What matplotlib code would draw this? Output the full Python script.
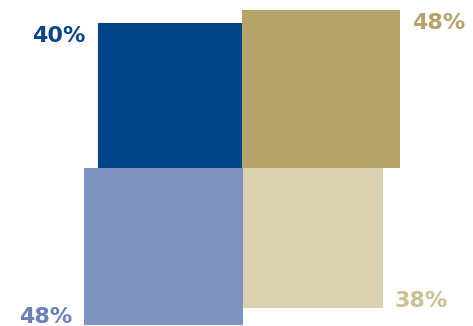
import matplotlib
matplotlib.use("Agg")
import matplotlib.pyplot as plt
from matplotlib.patches import Rectangle
import numpy as np

# quadrant shares: top-left, top-right, bottom-left, bottom-right
labels = ["40%", "48%", "48%", "38%"]
values = [40, 48, 48, 38]
fills = ["#004386", "#b5a36b", "#7f93c0", "#d9d1b1"]
text_colors = ["#0b4487", "#b5a36b", "#6a80b6", "#cdbf93"]

W, H = 473, 326
cx, cy = 242, 167.5   # shared corner of the four squares
k = 22.8              # side = k * sqrt(value), so area tracks the value

fig = plt.figure(figsize=(W / 100, H / 100), dpi=100)
ax = fig.add_axes([0, 0, 1, 1])
ax.set_xlim(0, W)
ax.set_ylim(H, 0)
ax.axis("off")

sides = [k * np.sqrt(v) for v in values]
dirs = [(-1, -1), (1, -1), (-1, 1), (1, 1)]
order = [0, 1, 3, 2]  # light blue sits over the light tan edge

for i in order:
    s = sides[i]
    dx, dy = dirs[i]
    x0 = cx if dx > 0 else cx - s
    y0 = cy if dy > 0 else cy - s
    s_w = s + 1 if i == 2 else s
    ax.add_patch(Rectangle((x0, y0), s_w, s, facecolor=fills[i], edgecolor="none"))

font = dict(fontsize=16, fontweight="bold", family="DejaVu Sans")
for i in range(4):
    s = sides[i]
    dx, dy = dirs[i]
    if dx < 0:
        tx, ha = cx - s - 12, "right"
    else:
        tx, ha = cx + s + 12, "left"
    if dy < 0:
        ty, va = cy - s + 3, "top"
    else:
        ty, va = min(cy + s - 1, H - 3), "baseline"
    ax.text(tx, ty, labels[i], ha=ha, va=va, color=text_colors[i], **font)

fig.savefig("out.png", dpi=100)
